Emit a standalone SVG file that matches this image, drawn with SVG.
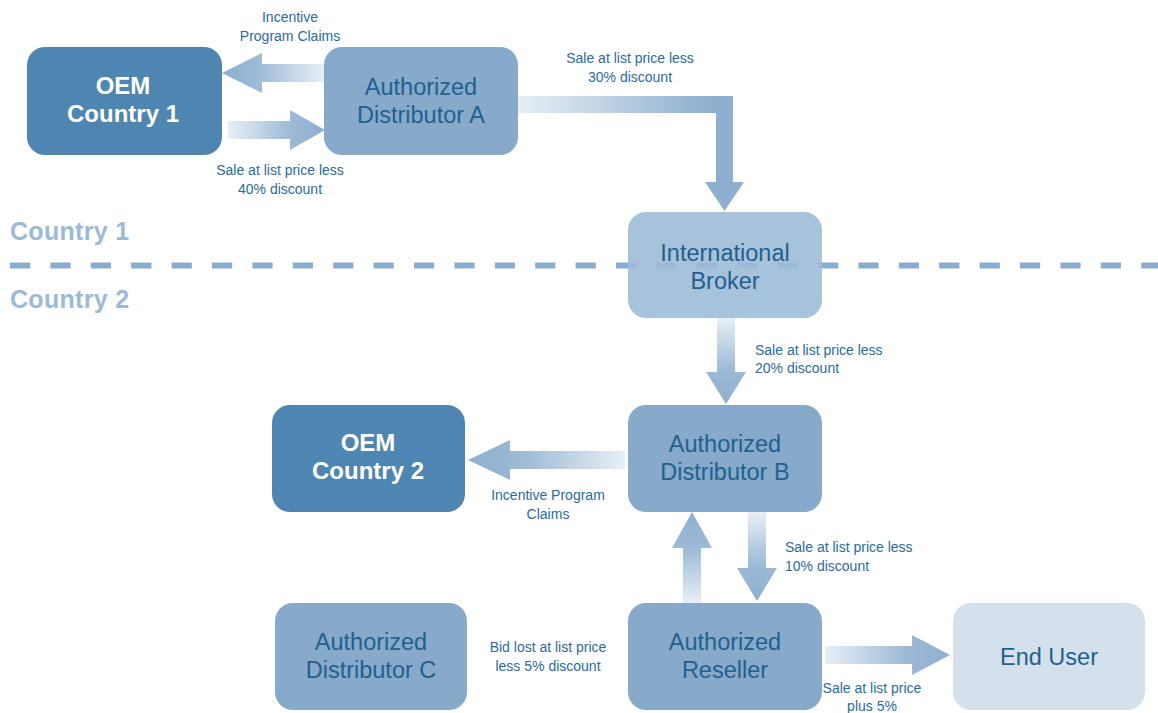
<svg xmlns="http://www.w3.org/2000/svg" width="1158" height="713" viewBox="0 0 1158 713">
<defs>
<style>
.dark{fill:#4f86b1}
.mid{fill:#87a9ca}
.brk{fill:#9dbbd7;fill-opacity:0.9}
.end{fill:#d4e1ed}
.wt{font-family:"Liberation Sans",Arial,sans-serif;font-weight:bold;font-size:24px;fill:#ffffff;text-anchor:middle}
.bt{font-family:"Liberation Sans",Arial,sans-serif;font-size:23.5px;fill:#22618e;text-anchor:middle}
.lb{font-family:"Liberation Sans",Arial,sans-serif;font-size:14px;fill:#2a6c98}
.c{text-anchor:middle}
.ct{font-family:"Liberation Sans",Arial,sans-serif;font-weight:bold;font-size:25px;fill:#9bbad6;letter-spacing:0.3px}
</style>
<linearGradient id="gL" x1="0" y1="0" x2="1" y2="0"><stop offset="0" stop-color="#8eafcf"/><stop offset="0.35" stop-color="#9dbad6"/><stop offset="1" stop-color="#e8eff6"/></linearGradient>
<linearGradient id="gR" x1="1" y1="0" x2="0" y2="0"><stop offset="0" stop-color="#8eafcf"/><stop offset="0.35" stop-color="#9dbad6"/><stop offset="1" stop-color="#e8eff6"/></linearGradient>
<linearGradient id="gD" x1="0" y1="1" x2="0" y2="0"><stop offset="0" stop-color="#8eafcf"/><stop offset="0.4" stop-color="#9dbad6"/><stop offset="1" stop-color="#e8eff6"/></linearGradient>
<linearGradient id="gU" x1="0" y1="0" x2="0" y2="1"><stop offset="0" stop-color="#8eafcf"/><stop offset="0.4" stop-color="#9dbad6"/><stop offset="1" stop-color="#e8eff6"/></linearGradient>
<linearGradient id="gLshape" gradientUnits="userSpaceOnUse" x1="517" y1="0" x2="710" y2="0"><stop offset="0" stop-color="#e8eff6"/><stop offset="1" stop-color="#8eafcf"/></linearGradient>
</defs>
<rect width="1158" height="713" fill="#ffffff"/>

<g id="divider">
<line x1="10" y1="265.5" x2="1158" y2="265.5" stroke="#8badcd" stroke-width="6" stroke-dasharray="20.2 20.2"/>
<text class="ct" x="10" y="240">Country 1</text>
<text class="ct" x="10" y="308">Country 2</text>
</g>

<g id="connectors">
<polygon points="222,73 262,53 262,64 325,64 325,82 262,82 262,93" fill="url(#gL)"/>
<polygon points="325,130 290,110 290,121 228,121 228,139 290,139 290,150" fill="url(#gR)"/>
<path d="M517,96 H733 V182 H744 L724.5,211 L705,182 H716 V113 H517 Z" fill="url(#gLshape)"/>
<polygon points="726,404 706,372 717,372 717,318 735,318 735,372 746,372" fill="url(#gD)"/>
<polygon points="468,460 510,440 510,451 625,451 625,469 510,469 510,480" fill="url(#gL)"/>
<polygon points="692,512 712,548 701,548 701,603 683,603 683,548 672,548" fill="url(#gU)"/>
<polygon points="757,601 737,568 748,568 748,512 766,512 766,568 777,568" fill="url(#gD)"/>
<polygon points="950,655 912,635 912,646 825,646 825,664 912,664 912,675" fill="url(#gR)"/>
</g>

<g id="labels">
<text class="lb c" x="290" y="22">Incentive</text>
<text class="lb c" x="290" y="41">Program Claims</text>
<text class="lb c" x="280" y="175">Sale at list price less</text>
<text class="lb c" x="280" y="194">40% discount</text>
<text class="lb c" x="630" y="63">Sale at list price less</text>
<text class="lb c" x="630" y="82">30% discount</text>
<text class="lb" x="755" y="355">Sale at list price less</text>
<text class="lb" x="755" y="373">20% discount</text>
<text class="lb c" x="548" y="500">Incentive Program</text>
<text class="lb c" x="548" y="519">Claims</text>
<text class="lb" x="785" y="552">Sale at list price less</text>
<text class="lb" x="785" y="571">10% discount</text>
<text class="lb c" x="548" y="652">Bid lost at list price</text>
<text class="lb c" x="548" y="671">less 5% discount</text>
<text class="lb c" x="872" y="693">Sale at list price</text>
<text class="lb c" x="872" y="711">plus 5%</text>
</g>

<g id="oem1">
<rect class="dark" x="27" y="47" width="195" height="108" rx="18"/>
<text class="wt" x="123" y="94">OEM</text>
<text class="wt" x="123" y="122">Country 1</text>
</g>
<g id="distA">
<rect class="mid" x="324" y="47" width="194" height="108" rx="18"/>
<text class="bt" x="421" y="95">Authorized</text>
<text class="bt" x="421" y="123">Distributor A</text>
</g>
<g id="broker">
<rect class="brk" x="628" y="212" width="194" height="106" rx="18"/>
<text class="bt" x="725" y="261">International</text>
<text class="bt" x="725" y="289">Broker</text>
</g>
<g id="distB">
<rect class="mid" x="628" y="405" width="194" height="107" rx="18"/>
<text class="bt" x="725" y="452">Authorized</text>
<text class="bt" x="725" y="480">Distributor B</text>
</g>
<g id="oem2">
<rect class="dark" x="272" y="405" width="193" height="107" rx="18"/>
<text class="wt" x="368" y="451">OEM</text>
<text class="wt" x="368" y="479">Country 2</text>
</g>
<g id="distC">
<rect class="mid" x="275" y="603" width="192" height="107" rx="18"/>
<text class="bt" x="371" y="650">Authorized</text>
<text class="bt" x="371" y="678">Distributor C</text>
</g>
<g id="reseller">
<rect class="mid" x="628" y="603" width="194" height="107" rx="18"/>
<text class="bt" x="725" y="650">Authorized</text>
<text class="bt" x="725" y="678">Reseller</text>
</g>
<g id="endUser">
<rect class="end" x="953" y="603" width="192" height="107" rx="18"/>
<text class="bt" x="1049" y="665">End User</text>
</g>
</svg>
